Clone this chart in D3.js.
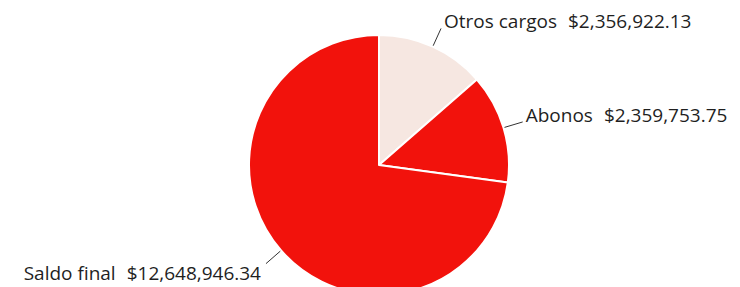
<!DOCTYPE html>
<html>
<head>
<meta charset="utf-8">
<script src="https://cdn.jsdelivr.net/npm/d3@7"></script>
<style>
  body { margin: 0; background: #fff; }
  text { font-family: "Open Sans", sans-serif; fill: #1f1f1f; }
</style>
</head>
<body>
<div id="chart"></div>
<script>
// values
var categories = ["Otros cargos", "Abonos", "Saldo final"];
var values = [2356922.13, 2359753.75, 12648946.34];
var amountLabels = ["$2,356,922.13", "$2,359,753.75", "$12,648,946.34"];
var sliceColors = ["#f6e7e1", "#f2120c", "#f2120c"];

var w = 740;
var h = 287;
var cx = 379, cy = 165;
var radius = 130;

var svg = d3.select("#chart")
  .append("svg")
  .attr("width", w)
  .attr("height", h);

var data = categories.map(function(c, i) {
  return { name: c, value: values[i], amount: amountLabels[i], color: sliceColors[i] };
});

var pie = d3.pie()
  .sort(null)
  .value(function(d) { return d.value; });

var arc = d3.arc().innerRadius(0).outerRadius(radius);

var g = svg.append("g").attr("transform", "translate(" + cx + "," + cy + ")");

var arcs = pie(data);

g.selectAll("path")
  .data(arcs)
  .enter()
  .append("path")
  .attr("d", arc)
  .attr("fill", function(d) { return d.data.color; })
  .attr("stroke", "#fff")
  .attr("stroke-width", 2)
  .attr("stroke-linejoin", "round");

// leader lines, radial from the slice midpoint
function pt(a, r) {
  return [Math.sin(a) * r, -Math.cos(a) * r];
}

g.selectAll("line.leader")
  .data(arcs)
  .enter()
  .append("line")
  .attr("class", "leader")
  .attr("x1", function(d) { return pt((d.startAngle + d.endAngle) / 2, radius + 1)[0]; })
  .attr("y1", function(d) { return pt((d.startAngle + d.endAngle) / 2, radius + 1)[1]; })
  .attr("x2", function(d) { return pt((d.startAngle + d.endAngle) / 2, radius + 20)[0]; })
  .attr("y2", function(d) { return pt((d.startAngle + d.endAngle) / 2, radius + 20)[1]; })
  .attr("stroke", "#333")
  .attr("stroke-width", 1);

var labels = g.selectAll("text.lbl")
  .data(arcs)
  .enter()
  .append("text")
  .attr("class", "lbl")
  .attr("font-size", 19)
  .attr("text-anchor", function(d) {
    var m = (d.startAngle + d.endAngle) / 2;
    return m > Math.PI ? "end" : "start";
  })
  .attr("x", function(d) {
    var m = (d.startAngle + d.endAngle) / 2;
    var p = pt(m, radius + 20);
    return m > Math.PI ? p[0] - 5 : p[0] + 3;
  })
  .attr("y", function(d) {
    var m = (d.startAngle + d.endAngle) / 2;
    var p = pt(m, radius + 20);
    return m > Math.PI ? p[1] + 16 : p[1] + 0;
  });

labels.append("tspan").text(function(d) { return d.data.name; });
labels.append("tspan").attr("dx", 11).text(function(d) { return d.data.amount; });
</script>
</body>
</html>
